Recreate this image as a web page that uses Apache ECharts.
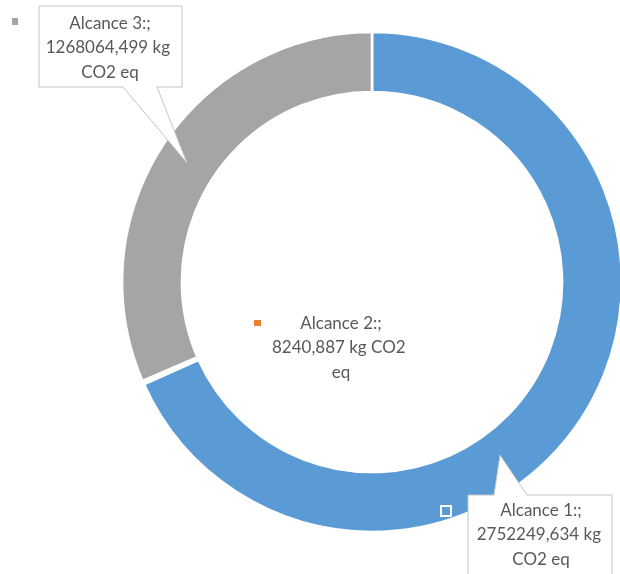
<!DOCTYPE html>
<html><head><meta charset="utf-8">
<script src="https://cdn.jsdelivr.net/npm/echarts@6/dist/echarts.min.js"></script>
<style>html,body{margin:0;padding:0;background:#fff}#c{width:620px;height:574px}</style>
</head><body><div id="c"></div>
<script>
const categories = ['Alcance 1', 'Alcance 2', 'Alcance 3'];
const values = [2752249.634, 8240.887, 1268064.499];
const unitText = 'kg CO2 eq';
const colors = ['#5b9bd5', '#ed7d31', '#a5a5a5'];

const chart = echarts.init(document.getElementById('c'), null, {renderer: 'canvas'});
const data = categories.map((n, i) => ({name: n, value: values[i]}));
const ringData = data.map((d, i) => i === 1 ? Object.assign({}, d, {itemStyle: {borderWidth: 3.4}}) : d);
const fmt = v => String(v).replace('.', ',');

// label anchor (top-center of each data label text block)
const labelPos = [
  {x: 541, y: 498},
  {x: 341, y: 311},
  {x: 110, y: 11}
];

const FONT = 'Lato, "Noto Sans", sans-serif';
const boxStroke = '#c4c4c4';

const option = {
  animation: false,
  color: colors,
  graphic: [
    {type: 'polygon', z: 5, shape: {points: [[39,6],[182,6],[182,87],[157,87],[187,163],[123,87],[39,87]]},
     style: {fill: '#fff', stroke: boxStroke, lineWidth: 1}},
    {type: 'polygon', z: 5, shape: {points: [[468,495],[494,495],[500,455],[527,495],[612,495],[612,600],[468,600]]},
     style: {fill: '#fff', stroke: boxStroke, lineWidth: 1}},
    // legend keys beside the data labels
    {type: 'rect', z: 6, shape: {x: 12, y: 18, width: 6, height: 7}, style: {fill: colors[2]}},
    {type: 'rect', z: 6, shape: {x: 254, y: 320, width: 7, height: 6}, style: {fill: colors[1]}},
    {type: 'rect', z: 6, shape: {x: 441, y: 506, width: 10, height: 10}, style: {fill: colors[0], stroke: '#fff', lineWidth: 2}}
  ],
  series: [
    {
      type: 'pie', z: 2,
      center: [372, 282], radius: [190, 250],
      startAngle: 90, clockwise: true,
      silent: true,
      itemStyle: {borderColor: '#fff', borderWidth: 2.7},
      label: {show: false}, labelLine: {show: false},
      data: ringData
    },
    {
      type: 'pie', z: 10,
      center: [372, 282], radius: [190, 250],
      startAngle: 90, clockwise: true,
      silent: true,
      itemStyle: {color: 'rgba(0,0,0,0)', borderWidth: 0},
      label: {
        show: true, position: 'outside',
        color: '#595959', fontFamily: FONT, fontSize: 17, lineHeight: 24.5,
        width: 152, overflow: 'break', align: 'center',
        formatter: p => p.name + ':;\n' + fmt(p.value) + ' ' + unitText
      },
      labelLine: {show: false},
      labelLayout: p => ({x: labelPos[p.dataIndex].x, y: labelPos[p.dataIndex].y, align: 'center', verticalAlign: 'top'}),
      data: data
    }
  ]
};
chart.setOption(option);
</script>
</body></html>
